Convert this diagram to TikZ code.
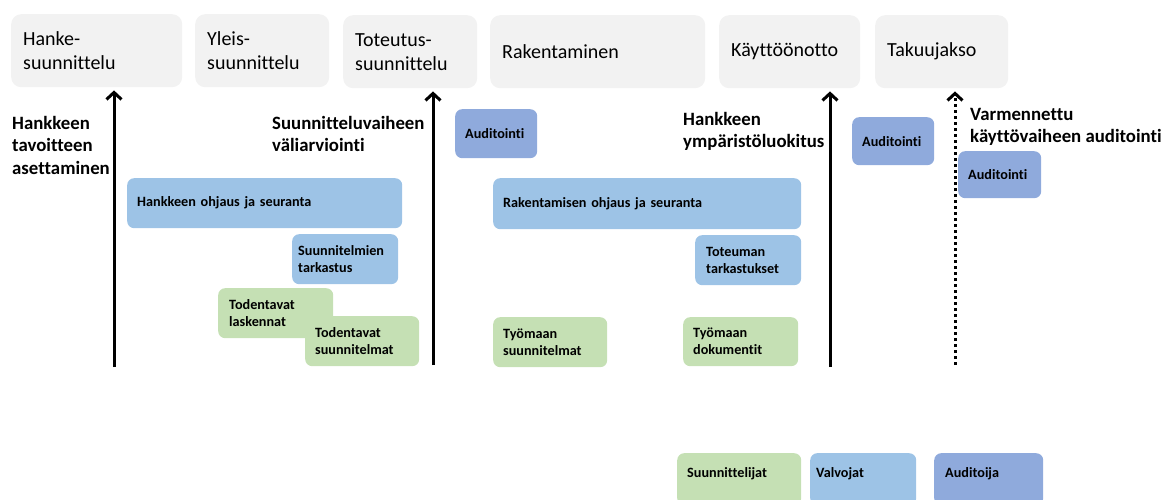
\documentclass[tikz,border=0pt]{standalone}
\usepackage{fontspec}
\setmainfont[Ligatures=NoCommon]{Carlito}
\usetikzlibrary{arrows.meta}
\definecolor{phasegray}{HTML}{F2F2F2}
\definecolor{lblue}{HTML}{9DC3E6}
\definecolor{lgreen}{HTML}{C5E0B4}
\definecolor{lpurple}{HTML}{8FAADC}
\tikzset{
  phase/.style={fill=phasegray, rounded corners=10pt, anchor=north west, inner xsep=12pt, inner ysep=0pt,
    align=left, font=\fontsize{20}{24}\selectfont, minimum height=73pt},
  cbox/.style={rounded corners=7pt, anchor=north west, inner xsep=10pt, inner ysep=0pt,
    align=left, font=\bfseries\fontsize{14.2}{17}\selectfont, minimum height=50pt},
  legbox/.style={cbox, text height=24.5pt, text depth=27.5pt},
  milestone/.style={anchor=north west, inner sep=0pt, align=left, font=\bfseries\fontsize{18.8}{22.5}\selectfont},
  marrow/.style={line width=3pt, -{Straight Barb[length=7pt,width=15pt,line width=3pt]}, shorten >=3pt},
  darrow/.style={marrow, dash pattern=on 3pt off 3pt},
}
\begin{document}
\begin{tikzpicture}[x=1pt,y=-1pt]
\useasboundingbox (0,0) rectangle (1164,500);
% phases
\node[phase, text width=147pt] (p1) at (11,14) {Hanke-\\suunnittelu};
\node[phase, text width=110pt] (p2) at (195,14) {Yleis-\\suunnittelu};
\node[phase, text width=110pt] (p3) at (343,15) {Toteutus-\\suunnittelu};
\node[phase, text width=191pt] (p4) at (490,15) {Rakentaminen};
\node[phase, text width=117pt] (p5) at (719,15) {Käyttöönotto};
\node[phase, text width=109pt] (p6) at (875,15) {Takuujakso};
% milestones
\node[milestone] (m1) at (12,116) {Hankkeen\\tavoitteen\\asettaminen};
\node[milestone] (m2) at (272,116) {Suunnitteluvaiheen\\väliarviointi};
\node[milestone] (m3) at (683,112) {Hankkeen\\ympäristöluokitus};
\node[milestone] (m4) at (970,108) {Varmennettu\\käyttövaiheen auditointi};
% arrows
\coordinate (c1) at (114,367);
\coordinate (c2) at (433,365);
\coordinate (c3) at (830,367);
\coordinate (c4) at (955,365);
\draw[marrow] (c1) -- (c1 |- p1.south);
\draw[marrow] (c2) -- (c2 |- p3.south);
\draw[marrow] (c3) -- (c3 |- p5.south);
\draw[darrow] (c4) -- (c4 |- p6.south);
% boxes
\node[cbox, fill=lblue, text width=255pt] (b1) at (127,178) {Hankkeen ohjaus ja seuranta};
\node[cbox, fill=lblue, inner xsep=6pt, text width=94pt] (b2) at (292,234) {Suunnitelmien\\tarkastus};
\node[cbox, fill=lgreen, inner xsep=11pt, text width=93pt] (b3) at (218,288) {Todentavat\\laskennat};
\node[cbox, fill=lgreen, text width=94pt] (b4) at (305,316) {Todentavat\\suunnitelmat};
\node[cbox, fill=lpurple, text width=62pt, minimum height=49pt] (a1) at (455,109) {Auditointi};
\node[cbox, fill=lblue, text width=288pt, minimum height=51pt] (b5) at (493,178) {Rakentamisen ohjaus ja seuranta};
\node[cbox, fill=lblue, inner xsep=11pt, text width=84pt] (b6) at (695,235) {Toteuman\\tarkastukset};
\node[cbox, fill=lgreen, text width=94pt] (b7) at (493,317) {Työmaan\\suunnitelmat};
\node[cbox, fill=lgreen, text width=95pt, minimum height=49pt] (b8) at (683,317) {Työmaan\\dokumentit};
\node[cbox, fill=lpurple, text width=62pt, minimum height=48pt] (a2) at (852,117) {Auditointi};
\node[cbox, fill=lpurple, text width=63pt, minimum height=47pt] (a3) at (958,151) {Auditointi};
% legend
\node[legbox, fill=lgreen, text width=104pt] (l1) at (677,453) {Suunnittelijat};
\node[legbox, fill=lblue, inner xsep=6pt, text width=94pt] (l2) at (810,453) {Valvojat};
\node[legbox, fill=lpurple, inner xsep=11pt, text width=87pt] (l3) at (934,453) {Auditoija};
\end{tikzpicture}
\end{document}
